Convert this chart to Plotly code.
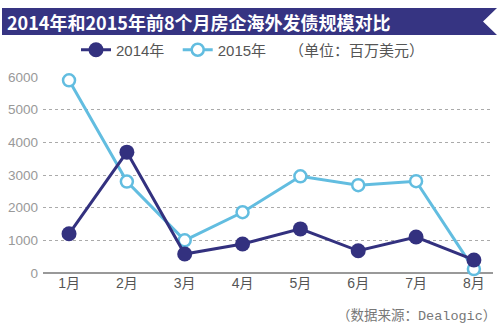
import plotly.graph_objects as go

months = ["1月", "2月", "3月", "4月", "5月", "6月", "7月", "8月"]
v2014 = [1200, 3700, 580, 890, 1350, 680, 1100, 400]
v2015 = [5900, 2800, 1000, 1860, 2960, 2690, 2810, 120]
yticks = [0, 1000, 2000, 3000, 4000, 5000, 6000]

W, H = 500, 329
L, R, T, B = 43, 7, 77, 56
PW, PH = W - L - R, H - T - B

def px(x):
    return (x - L) / PW

def py(y):
    return (H - B - y) / PH

NAVY = "#33317f"
LIGHT = "#62bde0"
FONT = "Liberation Sans, Noto Sans CJK SC, sans-serif"

fig = go.Figure()
fig.add_trace(go.Scatter(
    x=months, y=v2015, name="2015年", mode="lines+markers",
    line=dict(color=LIGHT, width=3),
    marker=dict(size=12, color="white", line=dict(width=2.5, color=LIGHT)),
    cliponaxis=False,
))
fig.add_trace(go.Scatter(
    x=months, y=v2014, name="2014年&nbsp;&nbsp;", mode="lines+markers",
    line=dict(color=NAVY, width=3),
    marker=dict(size=15, color=NAVY, line=dict(width=0)),
    cliponaxis=False,
))

# banner
pts = [(2, 8), (497, 8), (483, 21.5), (497, 35), (2, 35)]
path = "M " + " L ".join(f"{px(a)},{py(b)}" for a, b in pts) + " Z"
shapes = [dict(type="path", xref="paper", yref="paper", path=path,
               fillcolor="#363482", line=dict(width=0), layer="below")]

annotations = [
    dict(text="<b>2014年和2015年前8个月房企海外发债规模对比</b>", xref="paper", yref="paper",
         x=px(5), y=py(21.5), xanchor="left", yanchor="middle", showarrow=False,
         font=dict(family="Noto Sans CJK SC, sans-serif", size=18, color="white")),
    dict(text="（单位：百万美元）", xref="paper", yref="paper",
         x=px(287), y=py(50), xanchor="left", yanchor="middle", showarrow=False,
         font=dict(family=FONT, size=15, color="#555555")),
    dict(text="（数据来源：Dealogic）", xref="paper", yref="paper",
         x=px(498), y=py(316), xanchor="right", yanchor="middle", showarrow=False,
         font=dict(family="Liberation Mono, Noto Sans CJK SC, monospace", size=13.5, color="#777777")),
]

fig.update_layout(
    width=W, height=H,
    margin=dict(l=L, r=R, t=T, b=B, pad=0),
    paper_bgcolor="white", plot_bgcolor="white",
    shapes=shapes, annotations=annotations,
    showlegend=True,
    legend=dict(orientation="h", x=px(76), y=py(50), xanchor="left", yanchor="middle",
                traceorder="reversed",
                font=dict(family=FONT, size=15, color="#555555"),
                itemwidth=30, bgcolor="rgba(0,0,0,0)"),
    xaxis=dict(range=[-0.45, 7.33], showgrid=False, zeroline=False,
               showline=False, ticks="",
               tickfont=dict(family=FONT, size=14, color="#555555")),
    yaxis=dict(range=[0, 6000], tickvals=yticks, showgrid=True,
               gridcolor="#aaaaaa", griddash="dot", gridwidth=1,
               zeroline=True, zerolinecolor="#999999", zerolinewidth=1.5,
               ticks="", ticklabelstandoff=4,
               tickfont=dict(family=FONT, size=13.5, color="#999999")),
)

fig.write_html("out.html")
